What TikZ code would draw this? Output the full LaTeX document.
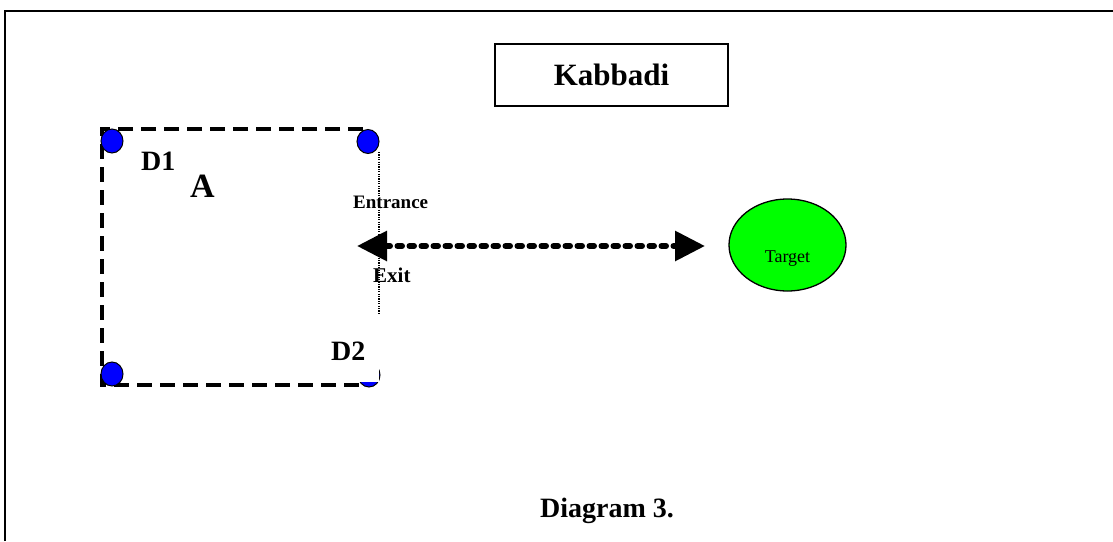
\documentclass[tikz,border=0pt]{standalone}
\usepackage{fontspec}
\setmainfont{Liberation Serif}
\usetikzlibrary{arrows.meta,shapes.geometric}
\newcommand\fsz[1]{\fontsize{#1}{#1}\selectfont}
\definecolor{dotblue}{RGB}{0,0,255}
\definecolor{tgreen}{RGB}{0,255,0}
\tikzset{
  lbl/.style={inner sep=0pt, font=\bfseries},
  corner/.style={ellipse, draw=black, line width=1pt, fill=dotblue, minimum width=22pt, minimum height=24pt, inner sep=0pt},
  court/.style={line width=3.5pt, dash pattern=on 15pt off 8pt},
}
\begin{document}
\begin{tikzpicture}[x=1pt,y=-1pt]
\useasboundingbox (0,0) rectangle (1113,541);
% outer frame
\draw[line width=2pt] (5,541) -- (5,11) -- (1113,11);
% title box
\node[draw, line width=1.2pt, minimum width=233pt, minimum height=62pt, inner sep=0pt, font=\bfseries\fsz{31}] (title) at (611.5,75) {Kabbadi};
% court (dashed square, open on the right)
\coordinate (c1) at (363,129);
\coordinate (c2) at (102,129);
\coordinate (c3) at (102,385);
\coordinate (c4) at (363,385);
\draw[court] (c1) -- (c2) -- (c3) -- (c4);
% corner dots
\node[corner] (tl) at (112,141) {};
\node[corner] (tr) at (368,141.5) {};
\node[corner] (bl) at (112,374) {};
\node[corner] (br) at (369,375) {};
% entrance/exit line
\coordinate (e1) at (379,152);
\coordinate (e2) at (379,313);
\draw[line width=1.2pt, dash pattern=on 1.2pt off 1.2pt] (e1) -- (e2);
% labels
\node[lbl, font=\bfseries\fsz{28}, anchor=base west] (d1) at (141,170) {D1};
\node[lbl, font=\bfseries\fsz{34}, anchor=base west] (a) at (190,197) {A};
\node[lbl, font=\bfseries\fsz{28}, anchor=base west, fill=white, text width=48pt, text depth=22pt, inner xsep=0pt] (d2) at (331,360) {D2};
\node[lbl, font=\bfseries\fsz{19}, anchor=base west] (ent) at (353,208) {Entrance};
\node[lbl, font=\bfseries\fsz{21}, anchor=base west] (exit) at (373,282) {Exit};
% target
\node[ellipse, draw=black, line width=1.3pt, fill=tgreen, minimum width=117pt, minimum height=92pt, inner sep=0pt, text height=38pt, text depth=4pt, font=\fsz{18}] (target) at (787.5,245) {Target};
% raid arrow
\coordinate (al) at (357,246);
\coordinate (ar) at (705,246);
\draw[line width=6pt, line cap=round, dash pattern=on 4.5pt off 7.5pt, {Triangle[length=30pt,width=29pt]}-{Triangle[length=30pt,width=29pt]}] (al) -- (ar);
% caption
\node[lbl, font=\bfseries\fsz{28}, anchor=base] (cap) at (607,517) {Diagram 3.};
\end{tikzpicture}
\end{document}
